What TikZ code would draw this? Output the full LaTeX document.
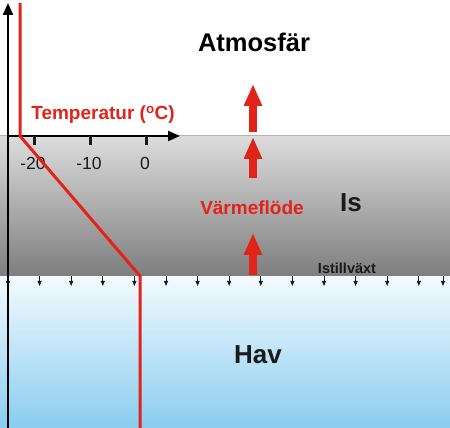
\documentclass[tikz,border=0pt]{standalone}
\usepackage{fontspec}
\setmainfont{Liberation Sans}
\usepackage{xcolor}
\usepackage{tikz}
\usetikzlibrary{arrows.meta}
\definecolor{icetop}{HTML}{DCDCDC}
\definecolor{icebot}{HTML}{7E7E7E}
\definecolor{icerim}{HTML}{B4B4B4}
\definecolor{seatop}{HTML}{F4FAFE}
\definecolor{seabot}{HTML}{8ACDF0}
\definecolor{ink}{HTML}{1A1A1A}
\definecolor{heat}{HTML}{E2231A}
\tikzset{
  axis/.style     = {draw=black, line width=2.2pt, -{Triangle[length=12pt,width=10pt]}},
  tick/.style     = {draw=ink, line width=3pt},
  templine/.style = {draw=heat, line width=3pt, line join=miter},
  flux/.style     = {draw=heat, line width=8pt, -{Triangle[length=22pt,width=17pt]}},
  growth/.style   = {draw=ink, line width=0.8pt, -{Triangle[length=5pt,width=4pt]}},
  big/.style      = {font=\fontsize{26}{30}\selectfont\bfseries\color{ink}, inner sep=0pt},
  mid/.style      = {font=\fontsize{19}{22}\selectfont\bfseries\color{heat}, inner sep=0pt},
  small/.style    = {font=\fontsize{14.5}{17}\selectfont\bfseries\color{ink}, inner sep=0pt},
  ticklab/.style  = {font=\fontsize{17.5}{20}\selectfont\color{ink}, inner sep=0pt},
}
\begin{document}
\begin{tikzpicture}[x=1pt,y=1pt]
\path[use as bounding box] (0,0) rectangle (450,428);

% ---- ocean and ice slab ------------------------------------------------
\shade[top color=seatop, bottom color=seabot] (0,0) rectangle (450,152);
\shade[top color=icetop, bottom color=icebot] (0,152) rectangle (450,292);
\draw[icerim, line width=1pt] (0,292) -- (450,292);

% ---- ice growth at the underside -----------------------------------------
\foreach \x in {8,39.6,71.2,102.8,134.4,166,197.6,229.2,260.8,292.4,324,355.6,387.2,418.8,443} {
  \coordinate (g) at (\x,152);
  \draw[growth] (g) -- ++(0,-10);
}
\node[small] (growth) at (347,160) {Istillväxt};

% ---- axes ---------------------------------------------------------------
\coordinate (origin) at (8,292);
\coordinate (ytop) at (8,425);
\coordinate (xend) at (180,292);
\draw[axis] (8,0) -- (ytop);
\draw[axis] (origin) -- (xend);
\foreach \x/\t in {34/-20, 90/-10, 146/0} {
  \draw[tick] (\x,292) -- (\x,283);
  \node[ticklab] at (\x-1,265) {\t};
}
\node[mid] (templab) at (103,313) {Temperatur (\textsuperscript{o}C)};

% ---- temperature profile --------------------------------------------------
\coordinate (tair) at (20,425);
\coordinate (tsurf) at (20,292);
\coordinate (tbase) at (140,152);
\coordinate (tsea) at (140,0);
\draw[templine] (tair) -- (tsurf) -- (tbase) -- (tsea);

% ---- heat flux upwards ----------------------------------------------------
\foreach \a/\b in {153/195, 250/291, 296/344} {
  \draw[flux] (253,\a) -- (253,\b);
}
\node[mid] (flux) at (252,220) {Värmeflöde};

% ---- layer names ----------------------------------------------------------
\node[big, font=\fontsize{25.5}{30}\selectfont\bfseries] (air) at (254,386) {Atmosfär};
\node[big] (ice) at (351,225) {Is};
\node[big] (sea) at (258,73) {Hav};

\end{tikzpicture}
\end{document}
